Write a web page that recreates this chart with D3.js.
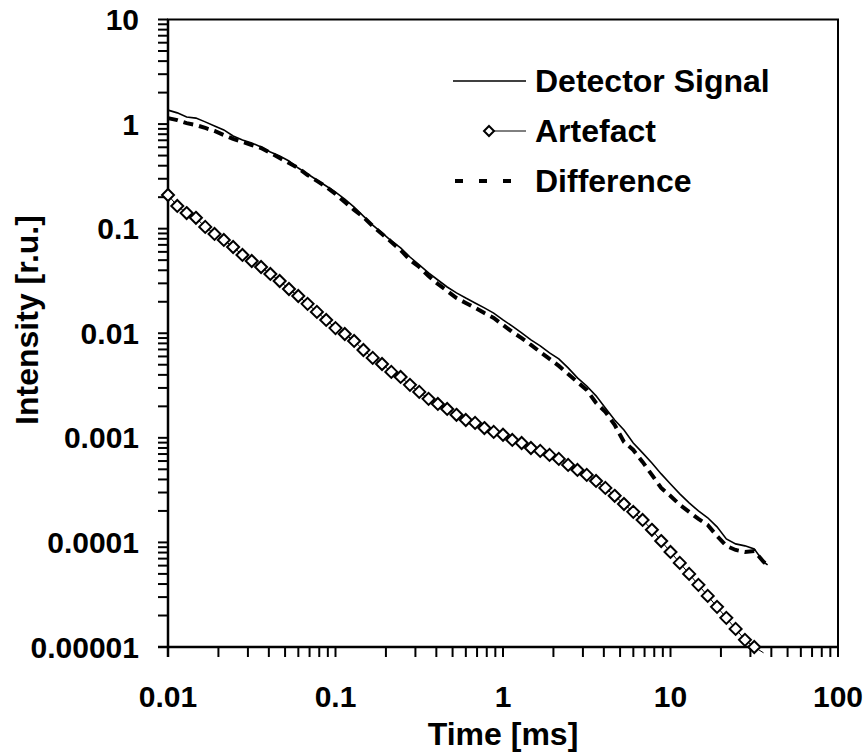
<!DOCTYPE html>
<html><head>
<meta charset="utf-8">
<script src="https://d3js.org/d3.v7.min.js"></script>
<style>
  body { margin: 0; background: #fff; }
  text { font-family: "Liberation Sans", Arial, sans-serif; font-weight: bold; fill: #000; }
  .tick-label { font-size: 30px; }
  .axis-title { font-size: 32px; }
  .legend-text { font-size: 32px; }
</style>
</head>
<body>
<svg id="chart" width="867" height="753"></svg>
<script>

// time grid [ms]
const times = [
  0.0100, 0.01136, 0.01292, 0.01468, 0.01668, 0.01896, 0.02154, 0.02448, 0.02783, 0.03162,
  0.03594, 0.04084, 0.04642, 0.05275, 0.05995, 0.06813, 0.07743, 0.08799,
  0.100, 0.1136, 0.1292, 0.1468, 0.1668, 0.1896, 0.2154, 0.2448, 0.2783, 0.3162,
  0.3594, 0.4084, 0.4642, 0.5275, 0.5995, 0.6813, 0.7743, 0.8799,
  1.00, 1.136, 1.292, 1.468, 1.668, 1.896, 2.154, 2.448, 2.783, 3.162,
  3.594, 4.084, 4.642, 5.275, 5.995, 6.813, 7.743, 8.799,
  10.0, 11.36, 12.92, 14.68, 16.68, 18.96, 21.54, 24.48, 27.83, 31.62,
  35.94, 38.0
];

// Detector Signal
const detector = [
  1.36, 1.28, 1.17, 1.14, 1.05, 0.959, 0.879, 0.769, 0.705, 0.659,
  0.604, 0.541, 0.495, 0.444, 0.380, 0.333, 0.292, 0.256,
  0.224, 0.192, 0.161, 0.132, 0.108, 0.0910, 0.0763, 0.0654, 0.0536, 0.0450,
  0.0377, 0.0323, 0.0277, 0.0243, 0.0217, 0.0195, 0.0175, 0.0156,
  0.0134, 0.0117, 0.0101, 0.00863, 0.00757, 0.00649, 0.00568, 0.00466, 0.00374, 0.00313,
  0.00252, 0.00193, 0.00148, 0.00119, 0.000893, 0.000718, 0.000575, 0.000452,
  0.000362, 0.000291, 0.000239, 0.000200, 0.000172, 0.000141, 0.000108, 0.0000968, 0.0000927, 0.0000867,
  0.0000652, 0.0000610
];

// Artefact (last value lies just below the axis)
const artefact = [
  0.210, 0.165, 0.141, 0.127, 0.104, 0.0890, 0.0780, 0.0668, 0.0561, 0.0491,
  0.0430, 0.0369, 0.0316, 0.0265, 0.0227, 0.0191, 0.0160, 0.0134,
  0.0112, 0.00984, 0.00844, 0.00692, 0.00581, 0.00508, 0.00427, 0.00382, 0.00321, 0.00275,
  0.00236, 0.00211, 0.00189, 0.00166, 0.00148, 0.00139, 0.00124, 0.00114,
  0.00107, 0.000955, 0.000893, 0.000800, 0.000750, 0.000687, 0.000629, 0.000551, 0.000493, 0.000442,
  0.000387, 0.000332, 0.000279, 0.000233, 0.000196, 0.000164, 0.000132, 0.000103,
  0.0000811, 0.0000637, 0.0000500, 0.0000393, 0.0000308, 0.0000242, 0.0000190, 0.0000149, 0.0000117, 0.0000100,
  0.0000088
];

// Difference
const difference = [
  1.14, 1.09, 1.02, 0.980, 0.918, 0.859, 0.787, 0.721, 0.675, 0.631,
  0.591, 0.530, 0.474, 0.425, 0.380, 0.326, 0.286, 0.251,
  0.215, 0.180, 0.151, 0.129, 0.106, 0.0890, 0.0746, 0.0625, 0.0502, 0.0430,
  0.0353, 0.0296, 0.0254, 0.0217, 0.0195, 0.0175, 0.0156, 0.0140,
  0.0120, 0.0103, 0.00900, 0.00773, 0.00662, 0.00568, 0.00487, 0.00408, 0.00342, 0.00287,
  0.00216, 0.00177, 0.00133, 0.000914, 0.000766, 0.000588, 0.000442, 0.000332,
  0.000278, 0.000229, 0.000196, 0.000168, 0.000147, 0.000115, 0.0000927, 0.0000847, 0.0000811, 0.0000828,
  0.0000652, 0.0000610
];

const xTickLabels = ["0.01", "0.1", "1", "10", "100"];
const yTickLabels = ["0.00001", "0.0001", "0.001", "0.01", "0.1", "1", "10"];
const legendNames = ["Detector Signal", "Artefact", "Difference"];

const svg = d3.select("#chart");
const plotLeft = 168, plotRight = 838, plotTop = 19.5, plotBottom = 647;

const x = d3.scaleLog().domain([0.01, 100]).range([plotLeft, plotRight]);
const y = d3.scaleLog().domain([0.00001, 10]).range([plotBottom, plotTop]);

// minor + major ticks
const xTicks = x.ticks();
const yTicks = y.ticks();

// frame (top/right)
svg.append("rect")
   .attr("x", plotLeft).attr("y", plotTop)
   .attr("width", plotRight - plotLeft).attr("height", plotBottom - plotTop)
   .attr("fill", "none").attr("stroke", "#000").attr("stroke-width", 2);

// y ticks outside left
svg.append("g").selectAll("line").data(yTicks).join("line")
   .attr("x1", plotLeft - 10).attr("x2", plotLeft)
   .attr("y1", d => y(d)).attr("y2", d => y(d))
   .attr("stroke", "#000").attr("stroke-width", 2);

// x ticks downward
svg.append("g").selectAll("line").data(xTicks).join("line")
   .attr("x1", d => x(d)).attr("x2", d => x(d))
   .attr("y1", plotBottom).attr("y2", plotBottom + 10)
   .attr("stroke", "#000").attr("stroke-width", 2);

svg.append("line").attr("x1", plotLeft).attr("x2", plotLeft).attr("y1", plotTop).attr("y2", plotBottom + 10)
   .attr("stroke", "#000").attr("stroke-width", 2.5);
svg.append("line").attr("x1", plotLeft - 10).attr("x2", plotRight).attr("y1", plotBottom).attr("y2", plotBottom)
   .attr("stroke", "#000").attr("stroke-width", 2.5);

// tick labels
svg.append("g").selectAll("text").data(yTickLabels).join("text")
   .attr("class", "tick-label")
   .attr("x", 139)
   .attr("y", d => y(+d) + 10.5)
   .attr("text-anchor", "end")
   .text(d => d);

svg.append("g").selectAll("text").data(xTickLabels).join("text")
   .attr("class", "tick-label")
   .attr("x", d => x(+d))
   .attr("y", 707)
   .attr("text-anchor", "middle")
   .text(d => d);

// axis titles
svg.append("text").attr("class", "axis-title")
   .attr("x", (plotLeft + plotRight) / 2).attr("y", 745)
   .attr("text-anchor", "middle").text("Time [ms]");
svg.append("text").attr("class", "axis-title")
   .attr("transform", "translate(38, 320) rotate(-90)")
   .attr("text-anchor", "middle").text("Intensity [r.u.]");

const line = d3.line().x((d, i) => x(times[i])).y(d => y(d));

// Difference (thick dashed)
svg.append("path").datum(difference)
   .attr("d", line)
   .attr("fill", "none").attr("stroke", "#000")
   .attr("stroke-width", 4).attr("stroke-dasharray", "10,6");

// Detector signal
svg.append("path").datum(detector)
   .attr("d", line)
   .attr("fill", "none").attr("stroke", "#000").attr("stroke-width", 1.6);

// Artefact
svg.append("path").datum(artefact)
   .attr("d", line)
   .attr("fill", "none").attr("stroke", "#000").attr("stroke-width", 1);

const diamond = r => `M0,${-r}L${r},0L0,${r}L${-r},0Z`;

svg.append("g").selectAll("path")
   .data(artefact.map((v, i) => [times[i], v]).filter(d => d[1] >= 0.00001))
   .join("path")
   .attr("d", diamond(6))
   .attr("transform", d => `translate(${x(d[0])},${y(d[1])})`)
   .attr("fill", "#fff").attr("stroke", "#000").attr("stroke-width", 2);

// legend
const lg = svg.append("g");
const rows = [81, 131, 181];
lg.append("line").attr("x1", 453).attr("x2", 526).attr("y1", rows[0]).attr("y2", rows[0])
  .attr("stroke", "#000").attr("stroke-width", 1.6);
lg.append("line").attr("x1", 489).attr("x2", 526).attr("y1", rows[1]).attr("y2", rows[1])
  .attr("stroke", "#000").attr("stroke-width", 1);
lg.append("path").attr("d", diamond(5)).attr("transform", `translate(489,${rows[1]})`)
  .attr("fill", "#fff").attr("stroke", "#000").attr("stroke-width", 2);
lg.append("line").attr("x1", 455).attr("x2", 526).attr("y1", rows[2]).attr("y2", rows[2])
  .attr("stroke", "#000").attr("stroke-width", 4).attr("stroke-dasharray", "8,16");
lg.selectAll("text").data(legendNames).join("text")
  .attr("class", "legend-text")
  .attr("x", 535).attr("y", (d, i) => rows[i] + 11)
  .text(d => d);

</script>
</body>
</html>
